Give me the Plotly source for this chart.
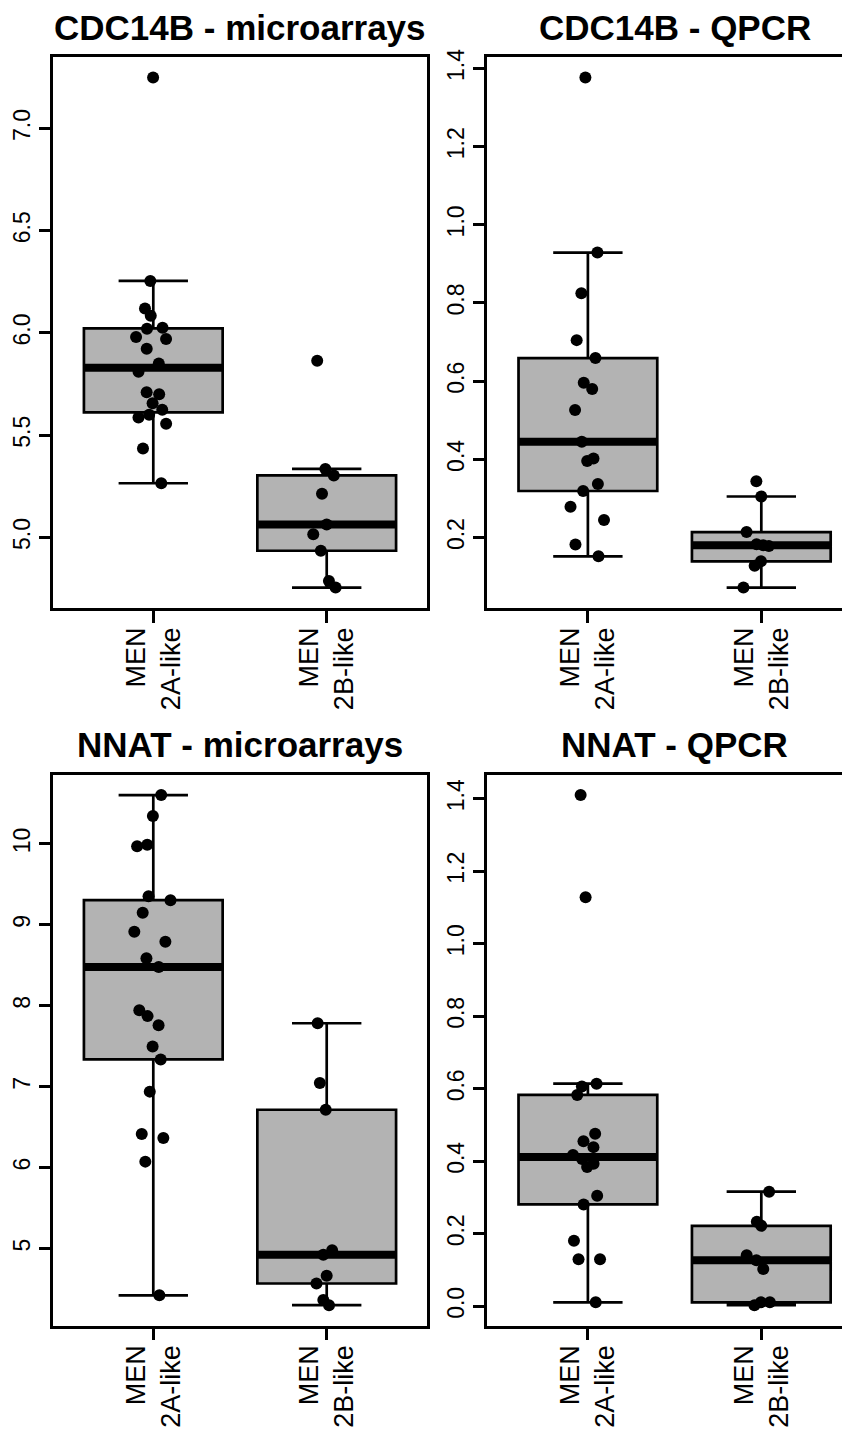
import numpy as np
import plotly.graph_objects as go

# ---------------- data ----------------
categories = ["MEN<br>2A-like", "MEN<br>2B-like"]

cdc14b_micro_2A = [7.249, 6.254, 6.119, 6.084, 6.025, 6.020, 5.980, 5.970, 5.923, 5.850,
                   5.810, 5.710, 5.700, 5.656, 5.624, 5.600, 5.587, 5.556, 5.435, 5.265]
cdc14b_micro_2B = [5.864, 5.335, 5.303, 5.214, 5.063, 5.016, 4.935, 4.787, 4.755]

cdc14b_qpcr_2A = [1.377, 0.929, 0.825, 0.705, 0.659, 0.596, 0.580, 0.526, 0.445,
                  0.402, 0.396, 0.337, 0.319, 0.279, 0.245, 0.182, 0.152]
cdc14b_qpcr_2B = [0.344, 0.305, 0.214, 0.183, 0.180, 0.178, 0.139, 0.128, 0.072]

nnat_micro_2A = [10.603, 10.345, 9.990, 9.970, 9.354, 9.305, 9.150, 8.916, 8.790, 8.586,
                 8.479, 7.945, 7.872, 7.760, 7.498, 7.337, 6.939, 6.414, 6.365, 6.074, 4.422]
nnat_micro_2B = [7.784, 7.046, 6.715, 4.980, 4.922, 4.665, 4.568, 4.364, 4.300]

nnat_qpcr_2A = [1.410, 1.128, 0.614, 0.606, 0.583, 0.476, 0.455, 0.439, 0.417,
                0.406, 0.393, 0.384, 0.305, 0.281, 0.181, 0.130, 0.130, 0.011]
nnat_qpcr_2B = [0.316, 0.233, 0.222, 0.141, 0.127, 0.103, 0.011, 0.011, 0.003]

titles = ["CDC14B - microarrays", "CDC14B - QPCR", "NNAT - microarrays", "NNAT - QPCR"]

yticks_cdc14b_micro = [5.0, 5.5, 6.0, 6.5, 7.0]
yticks_cdc14b_qpcr = [0.2, 0.4, 0.6, 0.8, 1.0, 1.2, 1.4]
yticks_nnat_micro = [5, 6, 7, 8, 9, 10]
yticks_nnat_qpcr = [0.0, 0.2, 0.4, 0.6, 0.8, 1.0, 1.2, 1.4]

# ---------------- layout geometry ----------------
PAGE_OFF = 8                      # default browser body margin
W, H = 850 - PAGE_OFF, 1431 - PAGE_OFF
FRAME_W, FRAME_H = 374.6, 554.0
PX_PER_UNIT = FRAME_W / 2.16
FONT = "Liberation Sans, Arial, sans-serif"
BOX_FILL = "#b3b3b3"
LW = 2.7

panels = [
    dict(title=titles[0], a=cdc14b_micro_2A, b=cdc14b_micro_2B, ticks=yticks_cdc14b_micro, fmt="{:.1f}", left=52.7, top=49.3),
    dict(title=titles[1], a=cdc14b_qpcr_2A, b=cdc14b_qpcr_2B, ticks=yticks_cdc14b_qpcr, fmt="{:.1f}", left=487.3, top=49.3),
    dict(title=titles[2], a=nnat_micro_2A, b=nnat_micro_2B, ticks=yticks_nnat_micro, fmt="{:d}", left=52.7, top=771.0),
    dict(title=titles[3], a=nnat_qpcr_2A, b=nnat_qpcr_2B, ticks=yticks_nnat_qpcr, fmt="{:.1f}", left=487.3, top=771.0),
]

fig = go.Figure()
annotations = []
layout_axes = {}

for i, p in enumerate(panels):
    sfx = "" if i == 0 else str(i + 1)
    xa, ya = "x" + sfx, "y" + sfx
    a, b = p["a"], p["b"]
    allv = np.array(a + b)
    span = allv.max() - allv.min()
    yr = [allv.min() - 0.04 * span, allv.max() + 0.04 * span]

    left = p["left"] - PAGE_OFF
    top = p["top"] - PAGE_OFF
    right_px = min(left + FRAME_W, W)
    cropped = right_px < left + FRAME_W
    xr = [0.42, 0.42 + (right_px - left) / PX_PER_UNIT]
    xdom = [left / W, right_px / W]
    ydom = [1 - (top + FRAME_H) / H, 1 - top / H]

    fig.add_trace(go.Box(
        x=[1] * len(a) + [2] * len(b), y=a + b,
        xaxis=xa, yaxis=ya,
        width=0.8, whiskerwidth=0.5,
        fillcolor=BOX_FILL, line=dict(color="black", width=LW),
        boxpoints="all", jitter=0.3, pointpos=0,
        marker=dict(color="black", size=12, opacity=1),
        quartilemethod="inclusive",
        showlegend=False, hoverinfo="skip",
    ))
    # thick median bars
    mx, my = [], []
    for pos, grp in ((1, a), (2, b)):
        med = float(np.median(grp))
        mx += [pos - 0.4, pos + 0.4, None]
        my += [med, med, None]
    fig.add_trace(go.Scatter(x=mx, y=my, mode="lines", xaxis=xa, yaxis=ya,
                             line=dict(color="black", width=8),
                             showlegend=False, hoverinfo="skip"))

    layout_axes["xaxis" + sfx] = dict(
        domain=xdom, range=xr, anchor=ya,
        tickmode="array", tickvals=[1, 2], ticktext=categories, tickangle=-90,
        ticks="outside", ticklen=12, tickwidth=LW, tickcolor="black",
        ticklabelstandoff=-6,
        showline=True, linecolor="black", linewidth=LW, mirror=True,
        showgrid=False, zeroline=False,
        tickfont=dict(family=FONT, size=27, color="black"),
    )
    layout_axes["yaxis" + sfx] = dict(
        domain=ydom, range=yr, anchor=xa,
        tickmode="array", tickvals=p["ticks"],
        ticktext=[p["fmt"].format(t) for t in p["ticks"]], tickangle=-90,
        ticks="outside", ticklen=11, tickwidth=LW, tickcolor="black",
        showline=True, linecolor="black", linewidth=LW, mirror=not cropped,
        showgrid=False, zeroline=False,
        tickfont=dict(family=FONT, size=23, color="black"),
    )
    annotations.append(dict(
        text=p["title"], xref="paper", yref="paper",
        x=(left + FRAME_W / 2) / W, y=1 - (top - 30) / H,
        xanchor="center", yanchor="middle", showarrow=False,
        font=dict(family=FONT, size=35, color="black", weight="bold"),
    ))

fig.update_layout(
    width=W, height=H, autosize=False,
    margin=dict(l=0, r=0, t=0, b=0),
    paper_bgcolor="white", plot_bgcolor="white",
    showlegend=False, annotations=annotations,
    **layout_axes,
)

fig.write_html("out.html")
